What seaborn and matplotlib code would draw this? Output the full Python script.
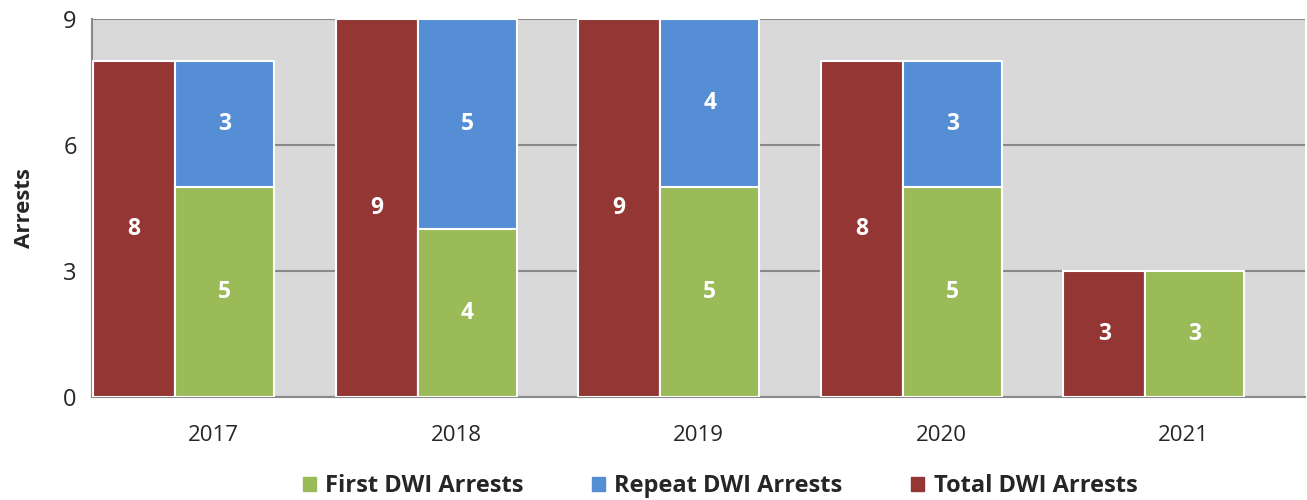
import matplotlib
matplotlib.use("Agg")
import matplotlib.pyplot as plt
import seaborn as sns
import numpy as np
import pandas as pd
from matplotlib.patches import Patch

# data
years = ["2017", "2018", "2019", "2020", "2021"]
first_dwi = [5, 4, 5, 5, 3]
repeat_dwi = [3, 5, 4, 3, 0]
total_dwi = [8, 9, 9, 8, 3]

c_first = "#9BBB59"
c_repeat = "#558ED5"
c_total = "#943634"

sns.set_style("white")
plt.rcParams["font.family"] = ["Open Sans", "DejaVu Sans"]

idx = np.arange(len(years))
w_total = 0.338
w_stack = 0.408

df = pd.DataFrame({
    "year": years,
    "first": first_dwi,
    "repeat": repeat_dwi,
    "total": total_dwi,
})
df["stack_top"] = df["first"] + df["repeat"]
df["x_total"] = idx + 0.004 + w_total / 2
df["x_stack"] = idx + 0.004 + w_total + w_stack / 2

fig = plt.figure(figsize=(13.07, 5), dpi=100)
ax = fig.add_axes([92 / 1307, 1 - 397 / 500, (1305 - 92) / 1307, (397 - 19) / 500])
ax.set_facecolor("#D9D9D9")

sns.barplot(data=df, x="x_total", y="total", native_scale=True, width=w_total,
            color=c_total, saturation=1, edgecolor="white", linewidth=1.5, ax=ax, zorder=3)
sns.barplot(data=df, x="x_stack", y="stack_top", native_scale=True, width=w_stack,
            color=c_repeat, saturation=1, edgecolor="white", linewidth=1.5, ax=ax, zorder=3)
sns.barplot(data=df, x="x_stack", y="first", native_scale=True, width=w_stack,
            color=c_first, saturation=1, edgecolor="white", linewidth=1.5, ax=ax, zorder=4)

lab = dict(color="white", fontsize=16.5, fontweight="bold", ha="center", va="center", zorder=6)
for i in idx:
    ax.text(df["x_total"][i], df["total"][i] / 2, str(df["total"][i]), **lab)
    ax.text(df["x_stack"][i], df["first"][i] / 2, str(df["first"][i]), **lab)
    if df["repeat"][i] > 0:
        ax.text(df["x_stack"][i], df["first"][i] + df["repeat"][i] / 2, str(df["repeat"][i]), **lab)

ax.set_xlim(0, len(years))
ax.set_ylim(0, 9)
ax.set_yticks([0, 3, 6, 9])
ax.set_xticks(np.arange(len(years) + 1), [""] * (len(years) + 1))
ax.set_xticks(idx + 0.5, years, minor=True)
ax.tick_params(axis="x", which="major", length=7, width=1.5, color="#898989", direction="out")
ax.tick_params(axis="x", which="minor", length=0, labelsize=16, pad=20)
ax.tick_params(axis="y", length=7, width=1.5, color="#898989", labelsize=17, direction="out", pad=4)
ax.yaxis.grid(True, color="#898989", linewidth=1.5, zorder=1)
ax.set_axisbelow(True)
for s in ["top", "right"]:
    ax.spines[s].set_visible(False)
for s in ["left", "bottom"]:
    ax.spines[s].set_color("#898989")
    ax.spines[s].set_linewidth(1.5)
ax.set_xlabel("")
ax.set_ylabel("Arrests", fontsize=16, fontweight="bold", labelpad=20)

handles = [Patch(color=c_first), Patch(color=c_repeat), Patch(color=c_total)]
labels = ["First DWI Arrests", "Repeat DWI Arrests", "Total DWI Arrests"]
fig.legend(handles, labels, loc="center", bbox_to_anchor=(720 / 1307, 1 - 486 / 500), ncol=3,
           frameon=False, handlelength=0.55, handleheight=0.55, handletextpad=0.4,
           columnspacing=2.9, prop={"size": 17, "weight": "bold"})

fig.savefig("out.png", dpi=100)
